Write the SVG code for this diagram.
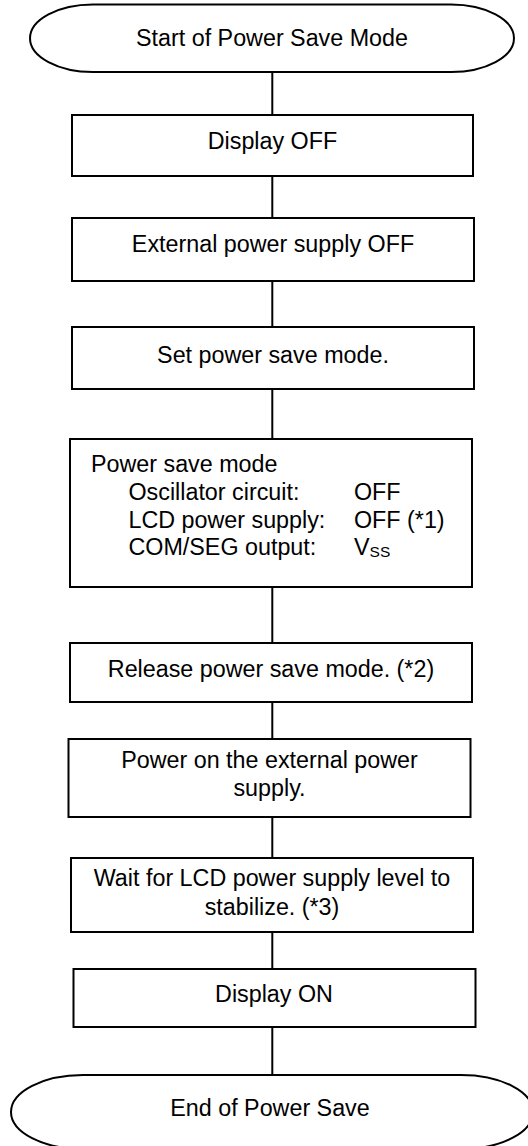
<svg xmlns="http://www.w3.org/2000/svg" width="528" height="1146" viewBox="0 0 528 1146">
<style>
.shape{fill:#fff;stroke:#000;stroke-width:2}
.t{font-family:"Liberation Sans",Arial,sans-serif;font-size:23.3px;fill:#000}
.c{text-anchor:middle}
.sub{font-size:15.5px}
#connectors line{stroke:#000;stroke-width:2}
</style>
<rect width="528" height="1146" fill="#fff"/>
<g id="connectors">
<line x1="272.3" y1="72" x2="272.3" y2="115"/>
<line x1="272.3" y1="176" x2="272.3" y2="218"/>
<line x1="272.3" y1="281" x2="272.3" y2="327"/>
<line x1="272.3" y1="389" x2="272.3" y2="439"/>
<line x1="272.3" y1="587" x2="272.3" y2="643"/>
<line x1="272.3" y1="702" x2="272.3" y2="739"/>
<line x1="272.3" y1="817" x2="272.3" y2="858"/>
<line x1="272.3" y1="932" x2="272.3" y2="969"/>
<line x1="272.3" y1="1027" x2="272.3" y2="1075"/>
</g>
<g id="start">
<path class="shape" d="M93,4.5 H451 A63,33.75 0 0 1 451,72 H93 A63,33.75 0 0 1 93,4.5 Z"/>
<text class="t c" x="272" y="46">Start of Power Save Mode</text>
</g>
<g id="display-off">
<rect class="shape" x="72" y="115" width="401" height="61"/>
<text class="t c" x="272.5" y="149">Display OFF</text>
</g>
<g id="ext-off">
<rect class="shape" x="72" y="218" width="402" height="63"/>
<text class="t c" x="273" y="252">External power supply OFF</text>
</g>
<g id="set-psm">
<rect class="shape" x="72" y="327" width="402" height="62"/>
<text class="t c" x="273" y="363">Set power save mode.</text>
</g>
<g id="psm">
<rect class="shape" x="70" y="439" width="402" height="148"/>
<text class="t" x="91" y="471.5">Power save mode</text>
<text class="t" x="128.5" y="499.5">Oscillator circuit:</text>
<text class="t" x="354" y="499.5">OFF</text>
<text class="t" x="128.5" y="527.5">LCD power supply:</text>
<text class="t" x="354" y="527.5">OFF (*1)</text>
<text class="t" x="128.5" y="555">COM/SEG output:</text>
<text class="t" x="354" y="555">V<tspan class="sub" dy="2">SS</tspan></text>
</g>
<g id="release">
<rect class="shape" x="70" y="643" width="402" height="59"/>
<text class="t c" x="271" y="677">Release power save mode. (*2)</text>
</g>
<g id="power-on">
<rect class="shape" x="68.5" y="739" width="402" height="78"/>
<text class="t c" x="269.5" y="768">Power on the external power</text>
<text class="t c" x="269.5" y="795.5">supply.</text>
</g>
<g id="wait">
<rect class="shape" x="71" y="858" width="402" height="74"/>
<text class="t c" x="272" y="885.5">Wait for LCD power supply level to</text>
<text class="t c" x="272" y="915">stabilize. (*3)</text>
</g>
<g id="display-on">
<rect class="shape" x="73.5" y="969" width="402" height="58"/>
<text class="t c" x="274" y="1002">Display ON</text>
</g>
<g id="end">
<path class="shape" d="M83,1075 H461 A72,37 0 0 1 461,1149 H83 A72,37 0 0 1 83,1075 Z"/>
<text class="t c" x="270" y="1115.5">End of Power Save</text>
</g>
</svg>
